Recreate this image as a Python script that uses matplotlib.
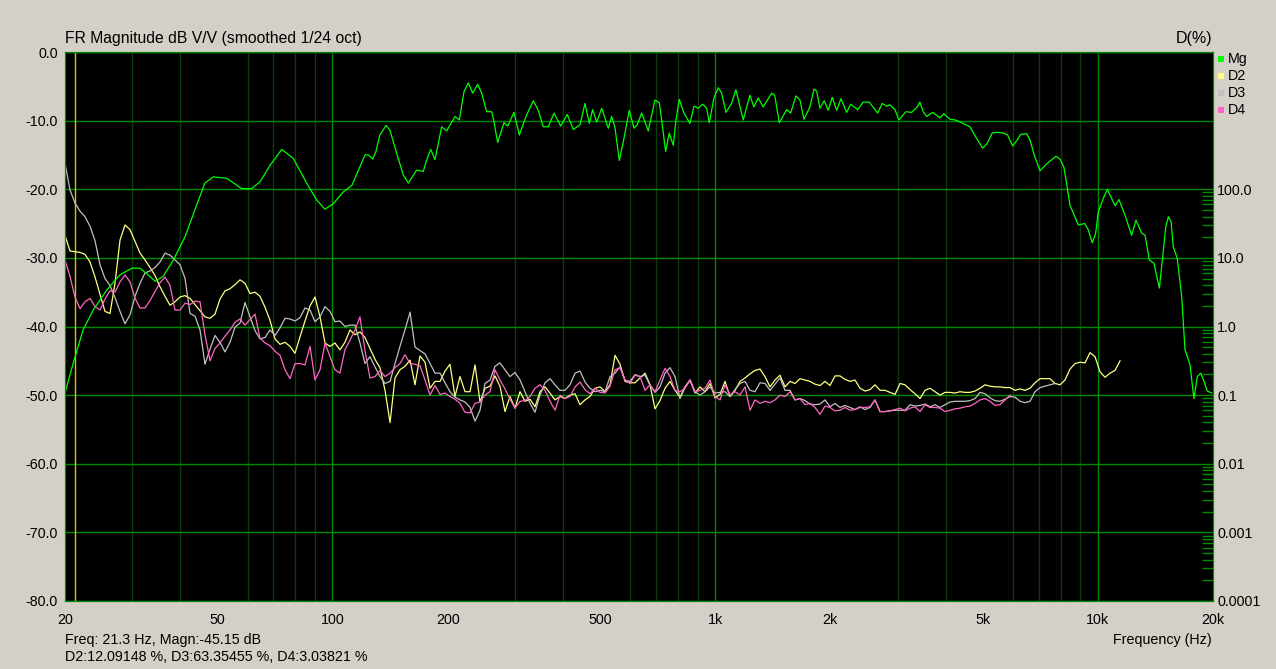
import numpy as np
import matplotlib
matplotlib.use('Agg')
import matplotlib.pyplot as plt
from matplotlib.patches import Rectangle
from matplotlib.ticker import FixedLocator, LogLocator, NullFormatter

# ---- data ----
# magnitude response, own frequency points
mg_hz = [20, 21.0, 22.3, 23.7, 25.7, 27.8, 29.9, 31.4, 33.0, 34.4, 36.1, 38.4, 41.2, 43.7, 46.4, 48.8,
         52.9, 57.9, 61.5, 64.7, 68.7, 73.7, 79.0, 85.6, 91.0, 95.6, 100.5, 106.7, 112.5, 118, 121.6, 124,
         127.4, 129.9, 133, 138, 141.3, 147.2, 153.1, 157.8, 166, 172.7, 176.3, 180.6, 185.3, 189, 192.9,
         198.8, 209, 214.5, 220.6, 226.4, 232.5, 239.6, 245.4, 252.9, 260.7, 264.3, 270.2, 274, 280.7, 287,
         298.1, 307.8, 320.4, 334.8, 345, 355.5, 366.4, 379.2, 394.8, 410.8, 425.9, 443.4, 456.9, 468.9,
         478.6, 490.3, 505.4, 525.7, 536.4, 547.3, 561.7, 575.4, 596.6, 613.7, 626, 642.6, 668.8, 696.3,
         714.6, 724.7, 742.5, 758.6, 777.4, 790.1, 805.7, 829.1, 859.1, 880.5, 903.6, 927.8, 950.4, 965.4,
         992.8, 1019, 1040, 1067, 1104, 1133, 1184, 1233, 1262, 1296, 1335, 1405, 1431, 1471, 1538, 1575,
         1626, 1666, 1706, 1769, 1812, 1842, 1879, 1928, 1975, 2023, 2078, 2132, 2206, 2260, 2357, 2438,
         2528, 2659, 2733, 2807, 2863, 2951, 3023, 3152, 3262, 3374, 3429, 3496, 3571, 3702, 3868, 3961,
         4108, 4234, 4408, 4633, 4824, 5001, 5142, 5298, 5441, 5662, 5813, 5990, 6159, 6286, 6517, 6648,
         6819, 7060, 7351, 7774, 7963, 8155, 8291, 8457, 8890, 9244, 9441, 9671, 9873, 10030, 10340,
         10590, 11090, 11360, 11780, 12260, 12580, 13020, 13290, 13630, 14020, 14480, 14780, 15050,
         15290, 15540, 15750, 16130, 16570, 16900, 17420, 17830, 18200, 18580, 18950, 19320, 19850]
mg_db = [-49.7, -45.4, -40.5, -37.6, -34.7, -32.5, -31.5, -31.5, -32.5, -33.4, -32.7, -30.3, -26.9, -23.0, -19.1, -18.2,
         -18.4, -19.9, -19.9, -18.9, -16.5, -14.2, -15.5, -19.1, -21.6, -22.9, -22.1, -20.4, -19.4, -16.7, -15.0, -15.0,
         -15.6, -14.5, -12.1, -10.7, -11.4, -14.8, -17.9, -19.1, -17.2, -17.4, -15.7, -14.2, -15.7, -13.3, -10.9,
         -11.5, -9.4, -9.9, -5.8, -4.5, -6.0, -4.7, -6.0, -8.7, -8.7, -10.2, -13.2, -12.1, -10.3, -10.8,
         -8.8, -12.1, -9.4, -7.1, -8.5, -10.9, -10.9, -8.9, -10.8, -9.1, -11.3, -10.6, -7.5, -10.4,
         -8.4, -10.2, -8.2, -11.1, -9.4, -11.0, -15.8, -13.1, -8.5, -11.1, -10.6, -8.9, -11.5, -7.0,
         -7.4, -9.9, -14.5, -11.8, -13.6, -9.9, -6.9, -8.9, -10.4, -7.9, -8.2, -7.6, -8.2, -10.3,
         -6.7, -5.2, -6.0, -8.8, -7.5, -5.5, -9.9, -6.3, -8.0, -6.7, -8.0, -6.0, -6.3, -10.3, -8.4, -8.9,
         -6.4, -7.0, -9.8, -8.0, -5.4, -5.7, -8.2, -7.1, -8.5, -6.6, -8.5, -6.8, -8.8, -7.6, -8.4, -7.3,
         -7.3, -8.9, -7.5, -7.9, -7.7, -8.4, -9.9, -8.7, -8.8, -8.0, -7.3, -8.7, -9.4, -8.8, -9.6, -9.0,
         -9.8, -9.9, -10.3, -10.9, -12.6, -14.0, -13.3, -11.8, -11.7, -11.8, -12.1, -13.7, -12.8, -12.0, -11.9, -12.8,
         -15.0, -17.3, -16.3, -15.2, -15.6, -16.8, -19.2, -22.3, -25.2, -25.0, -25.9, -27.8, -26.4, -23.3, -21.3,
         -20.0, -22.4, -21.5, -23.8, -26.7, -24.5, -26.4, -26.7, -30.3, -30.8, -34.4, -29.8, -25.5,
         -24.0, -24.7, -28.4, -30.1, -35.7, -43.4, -45.6, -50.5, -47.3, -46.8, -48.0, -49.4, -49.7]

# distortion curves share one frequency grid (about 1/23 octave)
d_hz = [20.0, 20.61, 21.24, 21.89, 22.56, 23.25, 23.96, 24.69, 25.44, 26.22, 27.02, 27.85, 28.70, 29.58,
        30.48, 31.41, 32.37, 33.36, 34.38, 35.43, 36.51, 37.62, 38.77, 39.96, 41.18, 42.44, 43.73, 45.07,
        46.44, 47.86, 49.32, 50.83, 52.38, 53.98, 55.63, 57.33, 59.08, 60.89, 62.74, 64.66, 66.64, 68.67,
        70.77, 72.93, 75.16, 77.46, 79.82, 82.26, 84.77, 87.36, 90.03, 92.78, 95.61, 98.53, 101.5, 104.6,
        107.8, 111.1, 114.5, 118.0, 121.6, 125.3, 129.2, 133.1, 137.2, 141.4, 145.7, 150.1, 154.7, 159.5,
        164.3, 169.3, 174.5, 179.9, 185.3, 191.0, 196.8,
        202.8, 209.0, 215.4, 222.0, 228.8, 235.8, 243.0, 250.4, 258.0, 265.9, 274.0, 282.4, 291.0, 299.9,
        309.1, 318.5, 328.3, 338.3, 348.6, 359.3, 370.2, 381.6, 393.2, 405.2, 417.6, 430.4, 443.5, 457.1,
        471.0, 485.4, 500.2, 515.5, 531.2, 547.5, 564.2, 581.4, 599.2, 617.5, 636.3, 655.8, 675.8, 696.5,
        717.7, 739.6, 762.2, 785.5, 809.5, 834.2, 859.7, 886.0, 913.0, 940.9, 969.6, 999.3, 1029.8, 1061.2,
        1093.6, 1127.1, 1161.5, 1197.0, 1233.5, 1271.2, 1310.0, 1350.1, 1391.3, 1433.8, 1477.5, 1522.7,
        1569.2, 1617.1, 1666.5, 1717.4, 1769.9, 1824.0, 1879.6, 1937.1, 1996.2,
        2057, 2120, 2185, 2251, 2320, 2391, 2464, 2539, 2617, 2697, 2779, 2864, 2952, 3042, 3135, 3231,
        3329, 3431, 3536, 3644, 3755, 3870, 3988, 4110, 4235, 4365, 4498, 4635, 4777, 4923, 5073, 5228,
        5387, 5552, 5722, 5896, 6076, 6262, 6453, 6650, 6854, 7063, 7279, 7501, 7730, 7966, 8209, 8460,
        8719, 8985, 9259, 9542, 9834, 10134, 10444, 10763, 11091, 11430]

# distortion levels, given on the dB scale of the left axis (10 dB per decade of %)
d2_db = [-26.7, -29.0, -29.1, -29.2, -29.5, -30.6, -32.8, -35.3, -37.8, -38.1,
         -33.7, -27.4, -25.2, -25.9, -27.6, -29.3, -30.3, -31.4, -32.6, -34.2,
         -35.6, -36.9, -36.4, -35.7, -35.5, -35.9, -36.8, -37.7, -38.6, -38.8,
         -38.2, -36.0, -34.8, -34.5, -33.9, -33.2, -33.7, -35.2, -35.0, -35.6,
         -37.2, -39.1, -41.8, -42.6, -42.3, -42.9, -43.9, -41.5, -39.2, -37.0,
         -35.7, -38.6, -42.4, -42.9, -42.4, -43.4, -42.3, -40.5, -41.2, -40.8,
         -41.6, -43.2, -44.8, -46.0, -49.3, -54.0, -47.5, -46.3, -45.8, -44.9,
         -48.5, -44.3, -45.2, -49.0, -48.0, -48.0, -46.5, -45.5, -50.2, -47.3,
         -49.5, -49.5, -45.6, -51.0, -49.0, -48.7, -47.2, -48.7, -52.4, -50.2,
         -51.9, -49.5, -50.9, -50.6, -51.7, -49.5, -48.8, -49.7, -50.7, -50.2,
         -50.5, -50.0, -49.8, -51.4, -50.7, -50.2, -49.0, -48.8, -49.5, -48.5,
         -44.2, -45.5, -48.0, -48.2, -48.2, -47.5, -46.8, -48.5, -52.0, -50.8,
         -49.0, -48.0, -49.3, -50.3, -48.8, -47.8, -49.7, -48.8, -49.5, -48.3,
         -50.4, -49.9, -48.0, -50.2, -49.3, -48.0, -47.5, -46.9, -46.4, -46.2,
         -47.3, -48.8, -47.8, -47.1, -48.8, -48.0, -48.3, -47.6, -47.8, -48.0,
         -48.4, -48.6, -48.0, -48.6, -47.2, -47.2, -47.7, -48.0, -47.8, -49.0,
         -49.4, -49.2, -48.5, -49.3, -49.3, -49.6, -49.9, -48.3, -48.5, -49.2,
         -49.8, -50.5, -49.3, -49.0, -49.5, -50.0, -49.6, -49.6, -49.7, -49.5,
         -49.6, -49.6, -49.4, -49.0, -48.5, -48.7, -48.8, -48.8, -48.9, -48.9,
         -49.3, -49.1, -49.3, -49.0, -48.2, -47.6, -47.6, -47.6, -48.3, -48.5,
         -47.8, -46.2, -45.4, -45.2, -45.3, -43.8, -44.4, -46.6, -47.4, -46.8,
         -46.4, -45.0]
d3_db = [-16.2, -20.1, -22.0, -23.2, -24.0, -25.4, -27.5, -31.0, -33.0, -34.0,
         -35.8, -37.8, -39.6, -38.3, -35.6, -33.7, -32.2, -31.9, -31.4, -30.6,
         -29.3, -29.6, -30.3, -31.0, -33.0, -38.1, -38.5, -40.5, -45.5, -43.3,
         -41.3, -42.3, -43.7, -42.3, -40.1, -39.5, -36.5, -38.6, -40.6, -41.8,
         -41.6, -40.5, -41.3, -40.2, -38.8, -38.9, -39.2, -38.7, -37.3, -37.6,
         -39.3, -38.6, -37.1, -37.8, -39.3, -39.2, -40.0, -39.8, -39.8, -42.4,
         -45.4, -44.4, -45.9, -47.3, -48.3, -48.0, -45.4, -42.9, -40.5, -37.9,
         -43.0, -43.5, -44.0, -45.4, -46.8, -46.8, -48.2, -49.5, -50.3, -50.7,
         -51.0, -51.8, -53.8, -52.2, -48.3, -47.8, -45.8, -45.3, -46.3, -47.3,
         -46.7, -47.8, -49.5, -51.2, -52.5, -50.0, -48.2, -47.6, -48.5, -49.3,
         -49.3, -48.5, -46.8, -46.5, -48.1, -49.0, -49.5, -49.3, -49.5, -47.3,
         -46.8, -45.9, -47.8, -48.0, -47.0, -47.3, -47.1, -48.5, -49.6, -48.8,
         -46.8, -46.0, -47.3, -50.5, -48.9, -47.8, -49.5, -50.0, -49.5, -48.8,
         -49.7, -49.6, -49.5, -50.2, -49.2, -48.3, -48.0, -49.3, -49.5, -48.2,
         -48.3, -49.3, -48.4, -47.5, -49.3, -49.3, -50.7, -50.5, -50.8, -51.3,
         -51.4, -51.3, -50.7, -51.7, -51.2, -51.8, -51.5, -51.8, -52.1, -51.7,
         -52.1, -51.8, -50.7, -52.4, -52.4, -52.3, -52.2, -52.2, -52.2, -51.4,
         -51.6, -51.5, -51.3, -51.7, -51.4, -51.8, -51.4, -51.0, -50.9, -50.9,
         -50.9, -50.8, -50.5, -49.6, -49.8, -50.4, -50.8, -50.9, -50.6, -50.2,
         -50.3, -50.9, -51.1, -50.9, -49.5, -48.9, -48.7, -48.5, -48.3]
d4_db = [-30.3, -32.7, -35.7, -37.4, -36.4, -35.9, -37.1, -37.6, -36.0, -34.8,
         -35.0, -33.5, -32.5, -33.5, -35.9, -37.3, -37.3, -36.2, -34.9, -33.6,
         -32.8, -34.0, -37.6, -37.6, -36.6, -36.8, -36.3, -36.4, -41.2, -45.0,
         -43.2, -42.4, -41.4, -40.5, -39.4, -38.9, -39.8, -39.0, -38.2, -41.7,
         -42.4, -42.8, -43.6, -44.2, -46.3, -47.6, -45.4, -45.4, -45.6, -42.9,
         -47.8, -46.3, -42.4, -44.4, -46.3, -46.8, -43.4, -42.0, -40.5, -38.6,
         -43.5, -47.5, -47.3, -46.4, -47.3, -46.8, -46.0, -45.4, -44.1, -45.4,
         -45.5, -45.7, -47.8, -50.0, -48.6, -49.9, -49.7, -50.2, -50.6, -51.2,
         -52.5, -52.6, -51.2, -51.0, -50.0, -49.5, -46.3, -47.8, -49.1, -50.6,
         -51.9, -50.9, -50.8, -50.2, -49.0, -48.5, -49.3, -50.9, -52.2, -50.0,
         -50.5, -50.2, -48.8, -48.1, -49.2, -49.8, -49.0, -49.6, -49.7, -48.7,
         -46.3, -46.0, -47.8, -48.3, -47.1, -47.3, -49.3, -48.5, -49.5, -47.8,
         -46.1, -47.3, -49.3, -49.5, -49.0, -47.8, -49.5, -49.3, -49.0, -47.8,
         -50.2, -50.7, -48.5, -50.0, -49.5, -50.0, -48.8, -52.2, -50.7, -51.2,
         -50.9, -51.1, -50.7, -50.0, -50.2, -49.5, -50.7, -50.5, -51.4, -51.2,
         -51.8, -52.8, -51.6, -51.8, -52.3, -52.2, -51.8, -52.2, -52.1, -51.8,
         -51.8, -51.7, -50.7, -52.4, -52.4, -52.3, -52.1, -51.9, -52.3, -51.9,
         -51.7, -52.4, -51.4, -51.8, -51.8, -51.9, -52.4, -52.2, -52.0, -51.9,
         -51.7, -51.6, -51.2, -50.7, -50.5, -50.9, -51.5, -51.4, -50.7, -50.0]

cursor_hz = 21.3
x_ticks = [20, 50, 100, 200, 500, 1000, 2000, 5000, 10000, 20000]
x_labels = ['20', '50', '100', '200', '500', '1k', '2k', '5k', '10k', '20k']
pct_ticks = [100, 10, 1, 0.1, 0.01, 0.001, 0.0001]
pct_labels = ['100.0', '10.0', '1.0', '0.1', '0.01', '0.001', '0.0001']
series = ['Mg', 'D2', 'D3', 'D4']
colors = ['#00ff00', '#ffff80', '#c0c0c0', '#ff66c4']

# ---- style ----
plt.rcParams['font.family'] = ['Liberation Sans', 'DejaVu Sans']
plt.rcParams['font.size'] = 10.3
BG = '#d4d0c8'
GRID = '#008c00'
GRID_DIM = '#0b3d0b'
W, H = 1276, 669

fig = plt.figure(figsize=(W / 100, H / 100), dpi=100, facecolor=BG)
ax = fig.add_axes([65 / W, 68 / H, 1148 / W, 549 / H])
ax.set_facecolor('black')
ax.set_xscale('log')
ax.set_xlim(20, 20000)
ax.set_ylim(-80, 0)

ax.xaxis.set_major_locator(FixedLocator(x_ticks))
ax.set_xticklabels(x_labels)
ax.xaxis.set_minor_locator(LogLocator(base=10, subs=np.arange(2, 10)))
ax.xaxis.set_minor_formatter(NullFormatter())
ax.set_yticks(np.arange(-80, 1, 10))
ax.set_yticklabels([f'{v:.1f}' for v in np.arange(-80, 1, 10)])
ax.tick_params(which='both', length=0)
ax.tick_params(axis='x', pad=9)
ax.tick_params(axis='y', pad=5)
ax.grid(which='minor', axis='x', color=GRID_DIM, lw=1)
ax.grid(which='major', axis='y', color=GRID, lw=1)
for dec in (100, 1000, 10000):
    ax.axvline(dec, color=GRID, lw=1, zorder=1.6)
for s in ax.spines.values():
    s.set_color(GRID)

ax.axvline(cursor_hz, color='#d8c400', lw=1, zorder=2)

ax.plot(d_hz[:len(d2_db)], d2_db, color=colors[1], lw=0.9, zorder=3)
ax.plot(d_hz[:len(d3_db)], d3_db, color=colors[2], lw=0.9, zorder=3)
ax.plot(d_hz[:len(d4_db)], d4_db, color=colors[3], lw=0.9, zorder=3)
ax.plot(mg_hz, mg_db, color=colors[0], lw=0.9, zorder=3)

# right axis: distortion in %, log
ax2 = ax.twinx()
ax2.set_yscale('log')
ax2.set_ylim(1e-4, 1e4)
ax2.yaxis.set_major_locator(FixedLocator(pct_ticks))
ax2.set_yticklabels(pct_labels)
ax2.yaxis.set_minor_locator(FixedLocator([k * 10.0 ** e for e in range(-4, 2) for k in range(2, 10)]))
ax2.yaxis.set_minor_formatter(NullFormatter())
ax2.tick_params(which='major', length=0, pad=3)
ax2.tick_params(which='minor', direction='in', length=8, color=GRID, width=1)
for s in ax2.spines.values():
    s.set_color(GRID)

# texts
fig.text(65 / W, 1 - 39 / H, 'FR Magnitude dB V/V (smoothed 1/24 oct)', ha='left', va='center', fontsize=11.3)
fig.text(1212 / W, 1 - 39 / H, 'D(%)', ha='right', va='center', fontsize=11.5)
fig.text(1212 / W, 1 - 640 / H, 'Frequency (Hz)', ha='right', va='center')
fig.text(65 / W, 1 - 640 / H, 'Freq: 21.3 Hz, Magn:-45.15 dB', ha='left', va='center')
fig.text(65 / W, 1 - 657 / H, 'D2:12.09148 %, D3:63.35455 %, D4:3.03821 %', ha='left', va='center')

# legend squares
for i, (name, c) in enumerate(zip(series, colors)):
    yc = 59 + 17 * i
    fig.add_artist(Rectangle((1218 / W, 1 - (yc + 3) / H), 6 / W, 6 / H,
                             transform=fig.transFigure, facecolor=c, edgecolor='none'))
    fig.text(1228 / W, 1 - yc / H, name, ha='left', va='center')

fig.savefig('out.png', dpi=100, facecolor=BG)
